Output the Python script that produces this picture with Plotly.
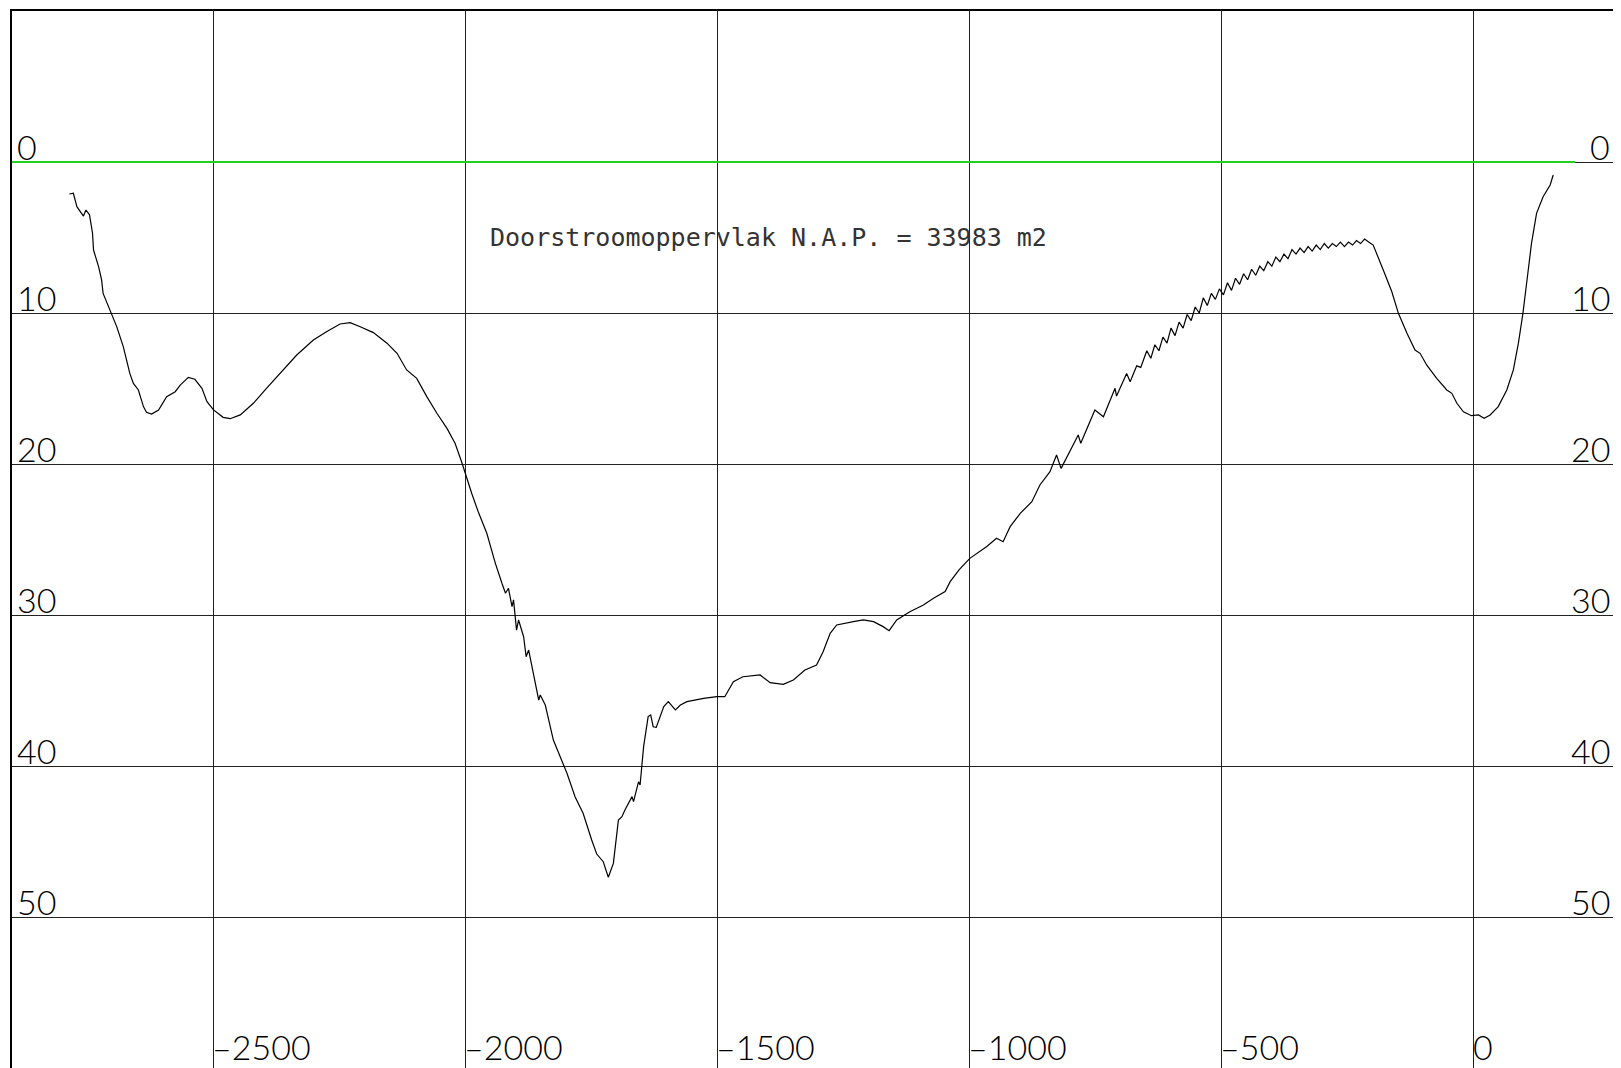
import plotly.graph_objects as go

# ---- data (distance in m, depth below N.A.P. in m) ----
profile_x = [
    -2785, -2777, -2770, -2757, -2752, -2745, -2739, -2737, -2727, -2721, -2718, -2704, -2691, -2678,
    -2665, -2658, -2648, -2638, -2632, -2622, -2608, -2592, -2575, -2565, -2549, -2536, -2522, -2512,
    -2499, -2480, -2466, -2446, -2420, -2394, -2367, -2334, -2301, -2275, -2248, -2228, -2208, -2182,
    -2155, -2135, -2116, -2096, -2076, -2056, -2036, -2026, -2020, -2007, -1997, -1987, -1974, -1957,
    -1940, -1932, -1927, -1920, -1914, -1907, -1904, -1898, -1894, -1884, -1879, -1874, -1861, -1854,
    -1851, -1841, -1825, -1805, -1798, -1782, -1766, -1749, -1739, -1726, -1716, -1706, -1696, -1689,
    -1683, -1669, -1666, -1656, -1653, -1646, -1637, -1632, -1627, -1621, -1613, -1606, -1597, -1583,
    -1573, -1560, -1527, -1501, -1485, -1468, -1449, -1422, -1415, -1395, -1369, -1349, -1326, -1303,
    -1290, -1276, -1263, -1230, -1210, -1190, -1171, -1159, -1144, -1118, -1091, -1071, -1048, -1038,
    -1020, -999, -966, -946, -933, -919, -899, -876, -860, -840, -827, -818, -800, -784, -779, -767,
    -751, -734, -711, -708, -688, -681, -668, -660, -652,
    -648, -640, -632, -624, -616, -608, -600, -592, -584, -576, -568, -560, -552, -544, -536, -528,
    -520, -512, -504, -496, -488, -480, -472, -464, -456, -448, -440, -432, -424, -416, -408, -400,
    -392, -384, -376, -368, -360, -352, -344, -336, -328, -320, -312, -304, -296, -288, -280, -272,
    -264, -256, -248, -240, -232, -224, -216, -208,
    -199, -179, -162, -149, -132, -116, -106, -93, -73, -53, -43, -33, -20, -4, 10, 21, 33, 49, 66,
    79, 89, 98, 106, 115, 125, 138, 152, 158,
]
profile_depth = [
    2.12, 2.07, 2.96, 3.58, 3.18, 3.5, 4.72, 5.83, 6.93, 7.81, 8.7, 9.8, 10.9, 12.23,
    14.0, 14.66, 15.1, 16.2, 16.58, 16.69, 16.42, 15.54, 15.21, 14.77, 14.26, 14.39, 14.99, 15.87,
    16.42, 16.91, 17.0, 16.75, 15.98, 14.99, 14.0, 12.78, 11.79, 11.24, 10.73, 10.64, 10.91, 11.3,
    12.0, 12.67, 13.77, 14.33, 15.54, 16.64, 17.64, 18.3, 18.63, 19.85, 20.95, 21.94, 23.16, 24.59,
    26.58, 27.46, 27.9, 28.56, 28.23, 29.45, 29.0, 31.0, 30.33, 31.44, 32.76, 32.32, 34.52, 35.63,
    35.3, 35.96, 38.28, 39.82, 40.48, 42.03, 43.13, 44.9, 45.83, 46.34, 47.37, 46.45, 43.58, 43.36,
    42.91, 42.03, 42.36, 41.04, 41.26, 38.72, 36.73, 36.62, 37.4, 37.44, 36.73, 36.07, 35.74, 36.29,
    35.96, 35.74, 35.52, 35.41, 35.41, 34.42, 34.09, 34.02, 33.97, 34.48, 34.59, 34.3, 33.64, 33.31,
    32.43, 31.21, 30.66, 30.44, 30.33, 30.44, 30.77, 31.04, 30.33, 29.78, 29.34, 28.89, 28.45, 27.79,
    27.0, 26.25, 25.48, 24.92, 25.15, 24.15, 23.27, 22.5, 21.39, 20.51, 19.4, 20.29, 19.07, 18.08, 18.63, 17.64,
    16.42, 16.87, 14.99, 15.5, 14.0, 14.55, 13.5, 13.6, 12.78,
    12.5, 13.0, 12.1, 12.5, 11.6, 12.0, 11.0, 11.5, 10.6, 11.0, 10.1, 10.5, 9.6, 10.0, 9.0, 9.5,
    8.7, 9.1, 8.4, 8.8, 8.0, 8.5, 7.7, 8.1, 7.4, 7.8, 7.1, 7.5, 6.9, 7.2, 6.6, 6.9,
    6.3, 6.6, 6.1, 6.4, 5.8, 6.1, 5.7, 6.0, 5.6, 5.9, 5.5, 5.8, 5.4, 5.7, 5.4, 5.6,
    5.3, 5.6, 5.3, 5.5, 5.2, 5.4, 5.1, 5.3,
    5.5, 7.15, 8.59, 10.02, 11.34, 12.45, 12.67, 13.44, 14.33, 15.1, 15.32, 15.98, 16.54, 16.8, 16.75, 16.97, 16.75, 16.2, 15.1,
    13.77, 12.0, 10.02, 7.81, 5.39, 3.4, 2.3, 1.52, 0.86,
]

water_line_x = [-2900, 202]
water_level = 0

x_ticks = [-2500, -2000, -1500, -1000, -500, 0]
x_tick_labels = ["\u20132500", "\u20132000", "\u20131500", "\u20131000", "\u2013500", "0"]
y_ticks = [0, 10, 20, 30, 40, 50]
y_tick_labels = ["0", "10", "20", "30", "40", "50"]

area_text = "Doorstroomoppervlak N.A.P. = 33983 m2"

X_RANGE = [-2898.7, 292.5]
Y_RANGE = [60.0, -10.0]

LABEL_FONT = dict(family="Lato", size=34, color="#000", weight=300)

fig = go.Figure()
fig.add_trace(go.Scatter(
    x=water_line_x, y=[water_level, water_level], mode="lines",
    line=dict(color="#22d022", width=2), hoverinfo="skip", showlegend=False,
))
fig.add_trace(go.Scatter(
    x=profile_x, y=profile_depth, mode="lines",
    line=dict(color="#000000", width=1.2), showlegend=False,
))

annotations = []
for v, t in zip(y_ticks, y_tick_labels):
    annotations.append(dict(x=0, xref="paper", y=v, yref="y", text=t, showarrow=False,
                            xanchor="left", yanchor="bottom", xshift=3, yshift=-7, font=LABEL_FONT))
    annotations.append(dict(x=1, xref="paper", y=v, yref="y", text=t, showarrow=False,
                            xanchor="right", yanchor="bottom", xshift=-9, yshift=-7, font=LABEL_FONT))
for v, t in zip(x_ticks, x_tick_labels):
    annotations.append(dict(x=v, xref="x", y=0, yref="paper", text=t, showarrow=False,
                            xanchor="left", yanchor="bottom", xshift=-3, yshift=-1, font=LABEL_FONT))
annotations.append(dict(x=-1950, xref="x", y=5.0, yref="y", text=area_text, showarrow=False,
                        xanchor="left", yanchor="middle", xshift=-2,
                        font=dict(family="DejaVu Sans Mono", size=25, color="#333")))

fig.update_layout(
    width=1613, height=1060,
    margin=dict(l=4, r=0, t=3, b=0),
    paper_bgcolor="white", plot_bgcolor="white",
    xaxis=dict(range=X_RANGE, tickmode="array", tickvals=x_ticks, showticklabels=False, ticks="",
               showgrid=True, gridcolor="#222", gridwidth=1, zeroline=False,
               showline=True, linecolor="black", linewidth=1.5, side="top", mirror=False),
    yaxis=dict(range=Y_RANGE, tickmode="array", tickvals=[-10] + y_ticks, showticklabels=False, ticks="",
               showgrid=True, gridcolor="#222", gridwidth=1, zeroline=False,
               showline=True, linecolor="black", linewidth=1.5, side="left", mirror=False),
    annotations=annotations,
    showlegend=False,
)

fig.write_html("out.html")
